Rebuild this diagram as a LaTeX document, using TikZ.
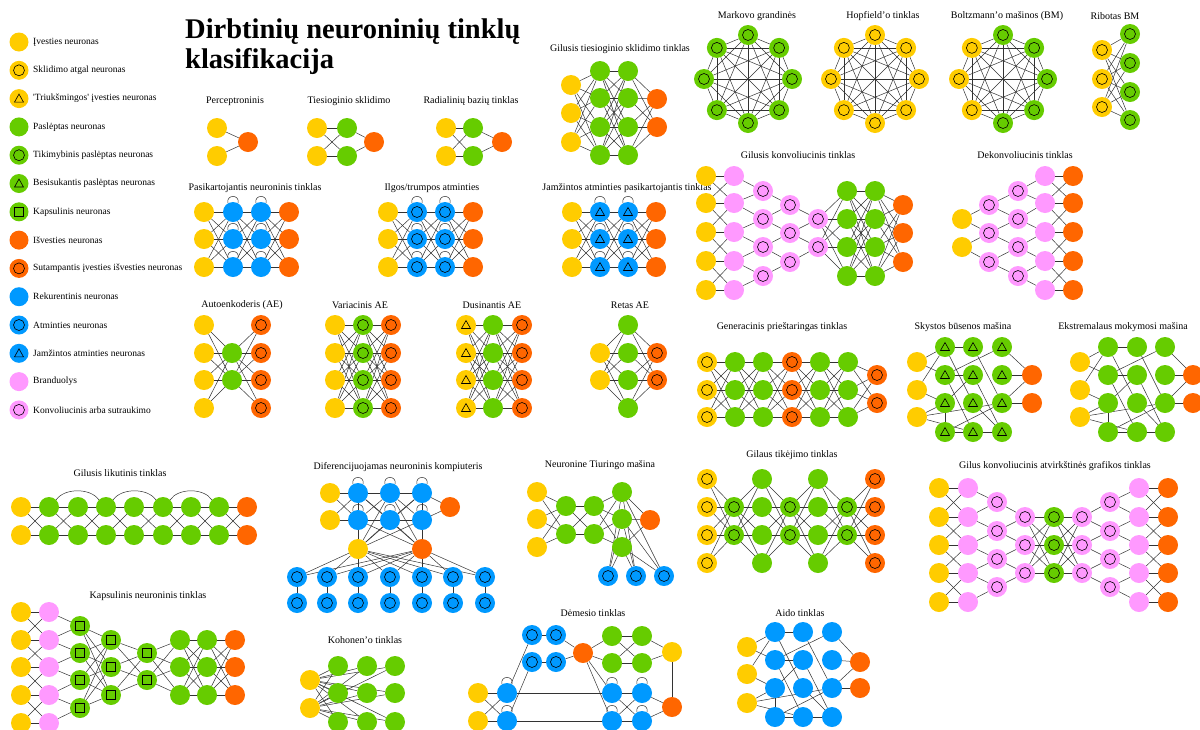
\documentclass[tikz,border=0pt]{standalone}
\usepackage{fontspec}
\setmainfont{Liberation Serif}
\usetikzlibrary{backgrounds}

\definecolor{inyel}{RGB}{255,204,0}
\definecolor{hidgrn}{RGB}{102,204,0}
\definecolor{outorg}{RGB}{255,102,0}
\definecolor{recblu}{RGB}{0,153,255}
\definecolor{kerpnk}{RGB}{255,153,255}

\tikzset{
  neuron/.style={circle, minimum size=20pt, inner sep=0pt},
  ring/.style={path picture={\draw[line width=0.6pt] (path picture bounding box.center) circle (5.5pt);}},
  tri/.style={path picture={\draw[line width=0.6pt] ([yshift=4.5pt]path picture bounding box.center) -- ++(4.5pt,-8pt) -- ++(-9pt,0pt) -- cycle;}},
  sq/.style={path picture={\draw[line width=0.6pt] ([shift={(-4.5pt,-4.5pt)}]path picture bounding box.center) rectangle ++(9pt,9pt);}},
  inp/.style={neuron, fill=inyel},
  bprop/.style={inp, ring},
  noisy/.style={inp, tri},
  hid/.style={neuron, fill=hidgrn},
  prob/.style={hid, ring},
  spik/.style={hid, tri},
  caps/.style={hid, sq},
  outp/.style={neuron, fill=outorg},
  mio/.style={outp, ring},
  rec/.style={neuron, fill=recblu},
  mem/.style={rec, ring},
  gmem/.style={rec, tri},
  kern/.style={neuron, fill=kerpnk},
  conv/.style={kern, ring}
}

% one column of neurons: name prefix, style, x, list of y
\newcommand{\neucol}[4]{\foreach \y [count=\r] in {#4} \node[#2] (#1\r) at (#3,\y) {};}
% every neuron of one column to every neuron of the next
\newcommand{\linkall}[4]{\foreach \i in {1,...,#2} \foreach \j in {1,...,#4} \draw[syn] (#1\i) -- (#3\j);}
% neuron j of the small column to j and j+1 of the big one
\newcommand{\linkpair}[3]{\foreach \j [evaluate=\j as \k using int(\j+1)] in {1,...,#2} {\draw[syn] (#1\j) -- (#3\j); \draw[syn] (#1\j) -- (#3\k);}}
% same row and crossing neighbours
\newcommand{\linkcross}[3]{%
  \foreach \j in {1,...,#3} \draw[syn] (#1\j) -- (#2\j);
  \pgfmathtruncatemacro\lastj{#3-1}
  \foreach \j [evaluate=\j as \k using int(\j+1)] in {1,...,\lastj} {\draw[syn] (#1\j) -- (#2\k); \draw[syn] (#1\k) -- (#2\j);}}
% all pairs of an eight neuron ring
\newcommand{\linkclique}[1]{\foreach \i in {1,...,7} {\pgfmathtruncatemacro\nx{\i+1} \foreach \j in {\nx,...,8} \draw[syn] (#1\i) -- (#1\j);}}
\newcommand{\selfloop}[1]{\draw[syn] (#1.120) .. controls +(-2pt,9pt) and +(2pt,9pt) .. (#1.60);}
% sparse random wiring of the reservoir nets
\newcommand{\reservoir}[1]{\foreach \p/\q in {a1/b1, a1/b2, a2/b1, a2/b3, a3/b3, a3/c4, a3/d3, b1/c1, b1/c3, b2/c2, b2/d1, b2/c4, b3/b4, b3/c2, c1/d3, c2/d4, b4/c4, b4/d3, c3/d4, c4/d4, d1/e1, d2/e1, d3/e1, d3/e2}
  \draw[syn] (#1-\p) -- (#1-\q);}

\begin{document}
\begin{tikzpicture}[x=1pt, y=-1pt,
  syn/.style={draw=black!80, line width=0.5pt},
  ttl/.style={font=\fontsize{10}{11}\selectfont, inner sep=0pt},
  lgd/.style={font=\fontsize{9.5}{11}\selectfont, anchor=west, inner sep=0pt}]
\useasboundingbox (0,0) rectangle (1200,729);

% title
\node[anchor=north west, align=left, inner sep=0pt, font=\fontsize{28.5}{30}\selectfont\bfseries] (title) at (185,19) {Dirbtinių neuroninių tinklų\\klasifikacija};

% legend
\foreach \st/\tx [count=\k] in {inp/{Įvesties neuronas}, bprop/{Sklidimo atgal neuronas}, noisy/{\textquotesingle Triukšmingos\textquotesingle{} įvesties neuronas}, hid/{Paslėptas neuronas}, prob/{Tikimybinis paslėptas neuronas}, spik/{Besisukantis paslėptas neuronas}, caps/{Kapsulinis neuronas}, outp/{Išvesties neuronas}, mio/{Sutampantis įvesties išvesties neuronas}, rec/{Rekurentinis neuronas}, mem/{Atminties neuronas}, gmem/{Jamžintos atminties neuronas}, kern/{Branduolys}, conv/{Konvoliucinis arba sutraukimo}} {
  \node[\st, minimum size=19pt] (lg-\k) at (19,{42+28.3*(\k-1)}) {};
  \node[lgd] (lgt-\k) at (33,{42+28.3*(\k-1)}) {\tx};
}

% Perceptroninis
\node[ttl] (pc-t) at (235,101) {Perceptroninis};
\neucol{pc-a}{inp}{217}{128,156}
\neucol{pc-b}{outp}{248}{142}
\begin{scope}[on background layer]
  \linkall{pc-a}{2}{pc-b}{1}
\end{scope}

% Tiesioginio sklidimo
\node[ttl] (ff-t) at (349,101) {Tiesioginio sklidimo};
\neucol{ff-a}{inp}{317}{128,156}
\neucol{ff-b}{hid}{347}{128,156}
\neucol{ff-c}{outp}{374}{142}
\begin{scope}[on background layer]
  \linkall{ff-a}{2}{ff-b}{2}
  \linkall{ff-b}{2}{ff-c}{1}
\end{scope}

% Radialiniu baziu
\node[ttl] (rbf-t) at (471,101) {Radialinių bazių tinklas};
\neucol{rbf-a}{inp}{446}{128,156}
\neucol{rbf-b}{hid}{473}{128,156}
\neucol{rbf-c}{outp}{502}{142}
\begin{scope}[on background layer]
  \linkall{rbf-a}{2}{rbf-b}{2}
  \linkall{rbf-b}{2}{rbf-c}{1}
\end{scope}

% Pasikartojantis
\node[ttl] (rnn-t) at (255,188) {Pasikartojantis neuroninis tinklas};
\neucol{rnn-a}{inp}{204}{212,239,267}
\neucol{rnn-b}{rec}{233}{212,239,267}
\neucol{rnn-c}{rec}{261}{212,239,267}
\neucol{rnn-d}{outp}{289}{212,239,267}
\begin{scope}[on background layer]
  \linkall{rnn-a}{3}{rnn-b}{3}
  \linkall{rnn-b}{3}{rnn-c}{3}
  \linkall{rnn-c}{3}{rnn-d}{3}
\end{scope}
\foreach \r in {1,2,3} {\selfloop{rnn-b\r} \selfloop{rnn-c\r}}

% Ilgos/trumpos
\node[ttl] (lstm-t) at (432,188) {Ilgos/trumpos atminties};
\neucol{lstm-a}{inp}{388}{212,239,267}
\neucol{lstm-b}{mem}{417}{212,239,267}
\neucol{lstm-c}{mem}{445}{212,239,267}
\neucol{lstm-d}{outp}{473}{212,239,267}
\begin{scope}[on background layer]
  \linkall{lstm-a}{3}{lstm-b}{3}
  \linkall{lstm-b}{3}{lstm-c}{3}
  \linkall{lstm-c}{3}{lstm-d}{3}
\end{scope}
\foreach \r in {1,2,3} {\selfloop{lstm-b\r} \selfloop{lstm-c\r}}

% Jamzintos atminties
\node[ttl] (gru-t) at (627,188) {Jamžintos atminties pasikartojantis tinklas};
\neucol{gru-a}{inp}{572}{212,239,267}
\neucol{gru-b}{gmem}{600}{212,239,267}
\neucol{gru-c}{gmem}{628}{212,239,267}
\neucol{gru-d}{outp}{656}{212,239,267}
\begin{scope}[on background layer]
  \linkall{gru-a}{3}{gru-b}{3}
  \linkall{gru-b}{3}{gru-c}{3}
  \linkall{gru-c}{3}{gru-d}{3}
\end{scope}
\foreach \r in {1,2,3} {\selfloop{gru-b\r} \selfloop{gru-c\r}}

% Gilusis tiesioginio sklidimo
\node[ttl] (dff-t) at (620,49) {Gilusis tiesioginio sklidimo tinklas};
\neucol{dff-a}{inp}{571}{85,113,142}
\neucol{dff-b}{hid}{600}{71,98,127,155}
\neucol{dff-c}{hid}{628}{71,98,127,155}
\neucol{dff-d}{outp}{657}{99,127}
\begin{scope}[on background layer]
  \linkall{dff-a}{3}{dff-b}{4}
  \linkall{dff-b}{4}{dff-c}{4}
  \linkall{dff-c}{4}{dff-d}{2}
\end{scope}

% Markovo, Hopfield'o, Boltzmann'o
\node[ttl] (mc-t) at (757,16) {Markovo grandinės};
\foreach \k in {1,...,8} \node[prob] (mc-\k) at ({748+44*cos(45*\k+45)},{79-44*sin(45*\k+45)}) {};
\node[ttl] (hn-t) at (883,16) {Hopfield'o tinklas};
\foreach \k in {1,...,8} \node[bprop] (hn-\k) at ({875+44*cos(45*\k+45)},{79-44*sin(45*\k+45)}) {};
\node[ttl] (bm-t) at (1007,16) {Boltzmann'o mašinos (BM)};
\foreach \st [count=\k] in {prob,bprop,bprop,bprop,prob,prob,prob,prob} \node[\st] (bm-\k) at ({1003+44*cos(45*\k+45)},{79-44*sin(45*\k+45)}) {};
\begin{scope}[on background layer]
  \linkclique{mc-}
  \linkclique{hn-}
  \linkclique{bm-}
\end{scope}

% Ribotas BM
\node[ttl] (rbm-t) at (1115,16) {Ribotas BM};
\neucol{rbm-a}{bprop}{1102}{50,79,107}
\neucol{rbm-b}{prob}{1130}{34,63,92,120}
\begin{scope}[on background layer]
  \linkall{rbm-a}{3}{rbm-b}{4}
\end{scope}

% Gilusis konvoliucinis
\node[ttl] (dcn-t) at (798,155) {Gilusis konvoliucinis tinklas};
\neucol{dcn-a}{inp}{706}{176,203,232,261,290}
\neucol{dcn-b}{kern}{734}{176,203,232,261,290}
\neucol{dcn-c}{conv}{763}{191,219,247,276}
\neucol{dcn-d}{conv}{790}{205,233,262}
\neucol{dcn-e}{conv}{818}{219,247}
\neucol{dcn-f}{hid}{847}{191,219,247,276}
\neucol{dcn-g}{hid}{875}{191,219,247,276}
\neucol{dcn-h}{outp}{903}{205,233,262}
\begin{scope}[on background layer]
  \linkcross{dcn-a}{dcn-b}{5}
  \linkpair{dcn-c}{4}{dcn-b}
  \linkpair{dcn-d}{3}{dcn-c}
  \linkpair{dcn-e}{2}{dcn-d}
  \linkall{dcn-e}{2}{dcn-f}{4}
  \linkall{dcn-f}{4}{dcn-g}{4}
  \linkall{dcn-g}{4}{dcn-h}{3}
\end{scope}

% Dekonvoliucinis
\node[ttl] (dn-t) at (1025,155) {Dekonvoliucinis tinklas};
\neucol{dn-a}{inp}{962}{219,247}
\neucol{dn-b}{conv}{989}{205,233,262}
\neucol{dn-c}{conv}{1018}{191,219,247,276}
\neucol{dn-d}{kern}{1045}{176,203,232,261,290}
\neucol{dn-e}{outp}{1073}{176,203,232,261,290}
\begin{scope}[on background layer]
  \linkpair{dn-a}{2}{dn-b}
  \linkpair{dn-b}{3}{dn-c}
  \linkpair{dn-c}{4}{dn-d}
  \linkcross{dn-d}{dn-e}{5}
\end{scope}

% Autoenkoderiai
\node[ttl] (ae-t) at (242,305) {Autoenkoderis (AE)};
\neucol{ae-a}{inp}{204}{325,353,380,408}
\neucol{ae-b}{hid}{232}{353,380}
\neucol{ae-c}{mio}{261}{325,353,380,408}
\node[ttl] (vae-t) at (360,305) {Variacinis AE};
\neucol{vae-a}{inp}{335}{325,353,380,408}
\neucol{vae-b}{prob}{363}{325,353,380,408}
\neucol{vae-c}{mio}{391}{325,353,380,408}
\node[ttl] (dae-t) at (492,305) {Dusinantis AE};
\neucol{dae-a}{noisy}{466}{325,353,380,408}
\neucol{dae-b}{hid}{493}{325,353,380,408}
\neucol{dae-c}{mio}{522}{325,353,380,408}
\node[ttl] (sae-t) at (630,305) {Retas AE};
\neucol{sae-a}{inp}{600}{353,380}
\neucol{sae-b}{hid}{628}{325,353,380,408}
\neucol{sae-c}{mio}{657}{353,380}
\begin{scope}[on background layer]
  \linkall{ae-a}{4}{ae-b}{2}
  \linkall{ae-b}{2}{ae-c}{4}
  \linkall{vae-a}{4}{vae-b}{4}
  \linkall{vae-b}{4}{vae-c}{4}
  \linkall{dae-a}{4}{dae-b}{4}
  \linkall{dae-b}{4}{dae-c}{4}
  \linkall{sae-a}{2}{sae-b}{4}
  \linkall{sae-b}{4}{sae-c}{2}
\end{scope}

% Generacinis priestaringas
\node[ttl] (gan-t) at (782,327) {Generacinis prieštaringas tinklas};
\neucol{gan-a}{bprop}{707}{362,390,417}
\neucol{gan-b}{hid}{735}{362,390,417}
\neucol{gan-c}{hid}{763}{362,390,417}
\neucol{gan-d}{mio}{792}{362,390,417}
\neucol{gan-e}{hid}{820}{362,390,417}
\neucol{gan-f}{hid}{848}{362,390,417}
\neucol{gan-g}{mio}{877}{375,403}
\begin{scope}[on background layer]
  \linkall{gan-a}{3}{gan-b}{3}
  \linkall{gan-b}{3}{gan-c}{3}
  \linkall{gan-c}{3}{gan-d}{3}
  \linkall{gan-d}{3}{gan-e}{3}
  \linkall{gan-e}{3}{gan-f}{3}
  \linkall{gan-f}{3}{gan-g}{2}
\end{scope}

% Skystos busenos
\node[ttl] (lsm-t) at (963,327) {Skystos būsenos mašina};
\neucol{lsm-a}{inp}{917}{362,390,417}
\neucol{lsm-b}{spik}{945}{347,375,403,432}
\neucol{lsm-c}{spik}{973}{347,375,403,432}
\neucol{lsm-d}{spik}{1002}{347,375,403,432}
\neucol{lsm-e}{outp}{1032}{375,403}
\begin{scope}[on background layer]
  \reservoir{lsm}
\end{scope}

% Ekstremalaus mokymosi
\node[ttl] (elm-t) at (1123,327) {Ekstremalaus mokymosi mašina};
\neucol{elm-a}{inp}{1080}{362,390,417}
\neucol{elm-b}{hid}{1108}{347,375,403,432}
\neucol{elm-c}{hid}{1137}{347,375,403,432}
\neucol{elm-d}{hid}{1165}{347,375,403,432}
\neucol{elm-e}{outp}{1193}{375,403}
\begin{scope}[on background layer]
  \reservoir{elm}
\end{scope}

% Gilusis likutinis
\node[ttl] (drn-t) at (120,473) {Gilusis likutinis tinklas};
\neucol{drn-a}{inp}{21}{507,535}
\foreach \c/\x in {b/49,c/78,d/106,e/134,f/163,g/191,h/219} {\neucol{drn-\c}{hid}{\x}{507,535}}
\neucol{drn-i}{outp}{247}{507,535}
\begin{scope}[on background layer]
  \foreach \p/\q in {a/b,b/c,c/d,d/e,e/f,f/g,g/h,h/i} {\linkcross{drn-\p}{drn-\q}{2}}
\end{scope}
\foreach \p/\q in {b/d,d/f,f/h} {\draw[syn] (drn-\p1.north east) .. controls +(8pt,12pt) and +(-8pt,12pt) .. (drn-\q1.north west);}

% Diferencijuojamas neuroninis kompiuteris
\node[ttl] (dnc-t) at (398,467) {Diferencijuojamas neuroninis kompiuteris};
\neucol{dnc-a}{inp}{330}{493,520}
\neucol{dnc-b}{rec}{358}{493,520}
\neucol{dnc-c}{rec}{390}{493,520}
\neucol{dnc-d}{rec}{422}{493,520}
\neucol{dnc-e}{outp}{450}{507}
\node[inp] (dnc-ri) at (358,549) {};
\node[outp] (dnc-ro) at (422,549) {};
\foreach \x [count=\k] in {297,327,358,390,422,453,485} {
  \node[mem] (dnc-m\k) at (\x,577) {};
  \node[mem] (dnc-n\k) at (\x,603) {};
}
\begin{scope}[on background layer]
  \linkall{dnc-a}{2}{dnc-b}{2}
  \linkcross{dnc-b}{dnc-c}{2}
  \linkcross{dnc-c}{dnc-d}{2}
  \linkall{dnc-d}{2}{dnc-e}{1}
  \foreach \p in {b1,b2,c1,c2,d1,d2} {\draw[syn] (dnc-\p) -- (dnc-ri); \draw[syn] (dnc-\p) -- (dnc-ro);}
  \foreach \k in {1,...,7} {\draw[syn] (dnc-ri) -- (dnc-m\k); \draw[syn] (dnc-ro) -- (dnc-m\k); \draw[syn] (dnc-m\k) -- (dnc-n\k);}
\end{scope}
\foreach \p in {b,c,d} {\selfloop{dnc-\p1} \selfloop{dnc-\p2}}

% Neuronine Tiuringo
\node[ttl] (ntm-t) at (600,465) {Neuronine Tiuringo mašina};
\neucol{ntm-a}{inp}{537}{492,519,547}
\neucol{ntm-b}{hid}{566}{506,534}
\neucol{ntm-c}{hid}{594}{506,534}
\neucol{ntm-d}{hid}{622}{492,519,547}
\neucol{ntm-e}{outp}{650}{520}
\foreach \x [count=\k] in {608,636,664} \node[mem] (ntm-m\k) at (\x,576) {};
\begin{scope}[on background layer]
  \linkall{ntm-a}{3}{ntm-b}{2}
  \linkall{ntm-b}{2}{ntm-c}{2}
  \linkall{ntm-c}{2}{ntm-d}{3}
  \linkall{ntm-d}{3}{ntm-e}{1}
  \linkall{ntm-d}{3}{ntm-m}{3}
\end{scope}

% Gilaus tikejimo
\node[ttl] (dbn-t) at (792,455) {Gilaus tikėjimo tinklas};
\neucol{dbn-a}{bprop}{707}{479,507,535,563}
\neucol{dbn-b}{prob}{734}{507,535}
\neucol{dbn-c}{hid}{762}{479,507,535,563}
\neucol{dbn-d}{prob}{790}{507,535}
\neucol{dbn-e}{hid}{818}{479,507,535,563}
\neucol{dbn-f}{prob}{847}{507,535}
\neucol{dbn-g}{mio}{875}{479,507,535,563}
\begin{scope}[on background layer]
  \linkall{dbn-a}{4}{dbn-b}{2}
  \linkall{dbn-b}{2}{dbn-c}{4}
  \linkall{dbn-c}{4}{dbn-d}{2}
  \linkall{dbn-d}{2}{dbn-e}{4}
  \linkall{dbn-e}{4}{dbn-f}{2}
  \linkall{dbn-f}{2}{dbn-g}{4}
\end{scope}

% Gilus konvoliucinis atvirkstines grafikos
\node[ttl] (dci-t) at (1055,466) {Gilus konvoliucinis atvirkštinės grafikos tinklas};
\neucol{dci-a}{inp}{939}{488,517,545,573,602}
\neucol{dci-b}{kern}{968}{488,517,545,573,602}
\neucol{dci-c}{conv}{997}{502,531,559,587}
\neucol{dci-d}{conv}{1025}{517,545,573}
\neucol{dci-e}{prob}{1054}{517,545,573}
\neucol{dci-f}{conv}{1082}{517,545,573}
\neucol{dci-g}{conv}{1110}{502,531,559,587}
\neucol{dci-h}{kern}{1139}{488,517,545,573,602}
\neucol{dci-i}{outp}{1168}{488,517,545,573,602}
\begin{scope}[on background layer]
  \linkcross{dci-a}{dci-b}{5}
  \linkpair{dci-c}{4}{dci-b}
  \linkpair{dci-d}{3}{dci-c}
  \linkall{dci-d}{3}{dci-e}{3}
  \linkall{dci-e}{3}{dci-f}{3}
  \linkpair{dci-f}{3}{dci-g}
  \linkpair{dci-g}{4}{dci-h}
  \linkcross{dci-h}{dci-i}{5}
\end{scope}

% Kapsulinis
\node[ttl] (cap-t) at (148,596) {Kapsulinis neuroninis tinklas};
\neucol{cap-a}{inp}{21}{612,640,667,695,723}
\neucol{cap-b}{kern}{49}{612,640,667,695,723}
\neucol{cap-c}{caps}{80}{626,653,680,708}
\neucol{cap-d}{caps}{111}{640,667,695}
\neucol{cap-e}{caps}{147}{653,680}
\neucol{cap-f}{hid}{180}{640,667,695}
\neucol{cap-g}{hid}{207}{640,667,695}
\neucol{cap-h}{outp}{235}{640,667,695}
\begin{scope}[on background layer]
  \linkcross{cap-a}{cap-b}{5}
  \linkpair{cap-c}{4}{cap-b}
  \linkall{cap-c}{4}{cap-d}{3}
  \linkall{cap-d}{3}{cap-e}{2}
  \linkall{cap-e}{2}{cap-f}{3}
  \linkall{cap-f}{3}{cap-g}{3}
  \linkall{cap-g}{3}{cap-h}{3}
\end{scope}

% Kohonen'o
\node[ttl] (koh-t) at (365,640) {Kohonen'o tinklas};
\neucol{koh-a}{inp}{310}{680,708}
\neucol{koh-b}{hid}{338}{666,693,722}
\neucol{koh-c}{hid}{367}{666,693,722}
\neucol{koh-d}{hid}{395}{666,693,722}
\begin{scope}[on background layer]
  \linkall{koh-a}{2}{koh-b}{3}
  \linkall{koh-a}{2}{koh-c}{3}
  \linkall{koh-a}{2}{koh-d}{3}
\end{scope}

% Demesio
\node[ttl] (att-t) at (593,613) {Dėmesio tinklas};
\node[mem] (att-m1) at (532,635) {};
\node[mem] (att-m2) at (556,635) {};
\node[mem] (att-m3) at (532,662) {};
\node[mem] (att-m4) at (556,662) {};
\node[outp] (att-o) at (583,653) {};
\node[hid] (att-g1) at (612,636) {};
\node[hid] (att-g2) at (642,636) {};
\node[hid] (att-g3) at (612,663) {};
\node[hid] (att-g4) at (642,663) {};
\node[inp] (att-y) at (672,652) {};
\neucol{att-a}{inp}{478}{693,721}
\neucol{att-b}{rec}{507}{693,721}
\node[rec] (att-c1) at (612,693) {};
\node[rec] (att-c2) at (642,693) {};
\node[rec] (att-c3) at (612,721) {};
\node[rec] (att-c4) at (642,721) {};
\node[outp] (att-z) at (672,707) {};
\begin{scope}[on background layer]
  \foreach \p/\q in {a1/b1, a1/b2, a2/b1, a2/b2, b1/m1, b2/m3, b1/c1, b2/c3, m1/m2, m3/m4, m2/o, m4/o, o/g1, o/g3, g1/g2, g3/g4, g1/g4, g3/g2, g2/y, g4/y, y/z, o/c1, o/c3, c1/c2, c3/c4, c1/c4, c3/c2, c2/z, c4/z}
    \draw[syn] (att-\p) -- (att-\q);
\end{scope}
\foreach \p in {b1,b2,c1,c2,c3,c4} {\selfloop{att-\p}}

% Aido
\node[ttl] (esn-t) at (800,613) {Aido tinklas};
\neucol{esn-a}{inp}{747}{647,674,703}
\neucol{esn-b}{rec}{775}{632,660,688,717}
\neucol{esn-c}{rec}{803}{632,660,688,717}
\neucol{esn-d}{rec}{832}{632,660,688,717}
\neucol{esn-e}{outp}{860}{662,688}
\begin{scope}[on background layer]
  \reservoir{esn}
\end{scope}

\end{tikzpicture}
\end{document}
